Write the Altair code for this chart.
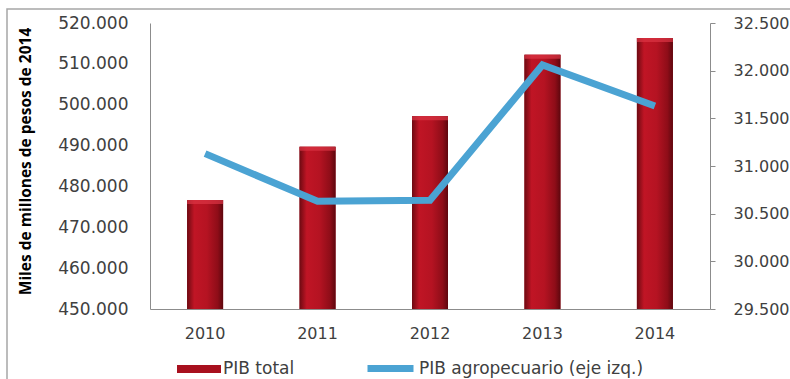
import altair as alt
import pandas as pd

years = ["2010", "2011", "2012", "2013", "2014"]
pib_total = [476.7, 489.7, 497.2, 512.2, 516.3]          # miles de millones
pib_agro = [31.13, 30.63, 30.64, 32.06, 31.63]           # miles de millones

df = pd.DataFrame({"year": years, "total": pib_total, "agro": pib_agro,
                   "s_bar": "PIB total", "s_line": "PIB agropecuario (eje izq.)"})

FONT = "DejaVu Sans"
TXT = "#404040"
AX = "#8c8c8c"
BLUE = "#4ba3d3"

x = alt.X("year:N", title=None,
          scale=alt.Scale(paddingInner=0.68, paddingOuter=0.33),
          axis=alt.Axis(labelAngle=0, ticks=False, domainColor=AX, labelFont=FONT,
                        labelFontSize=16, labelColor=TXT, labelPadding=16))

yscale = alt.Scale(domain=[450, 520], zero=False, nice=False)
yl = alt.Y("total:Q", title="Miles de millones de pesos de 2014", scale=yscale,
           axis=alt.Axis(values=[450, 460, 470, 480, 490, 500, 510, 520],
                         labelExpr="format(datum.value, ',.0f') + '.000'",
                         ticks=False, grid=False, domainColor=AX, labelPadding=22,
                         labelFont=FONT, labelFontSize=17, labelColor=TXT,
                         titleFont="Open Sans", titleFontSize=15.5, titleFontWeight="bold",
                         titleColor="#000000", titleX=-125, titleY=138, titleAngle=-90,
                         titleAlign="center", titleBaseline="middle"))

grad = alt.LinearGradient(gradient="linear", x1=0, x2=1, y1=0, y2=0, stops=[
    alt.GradientStop(color="#6e0a12", offset=0),
    alt.GradientStop(color="#c01525", offset=0.2),
    alt.GradientStop(color="#b51322", offset=0.55),
    alt.GradientStop(color="#8e0d18", offset=0.85),
    alt.GradientStop(color="#5e070e", offset=1),
])

legend_bar = alt.Legend(title=None, orient="none", legendX=27, legendY=324,
                        symbolType="M-1,-0.18H1V0.18H-1Z", symbolSize=1936,
                        symbolStrokeWidth=0, labelFont=FONT, labelFontSize=17,
                        labelColor=TXT, labelOffset=2, labelLimit=400)
bars_legend = alt.Chart(df).mark_bar(size=36, clip=True).encode(
    x=x, y=yl,
    fill=alt.Fill("s_bar:N", scale=alt.Scale(range=["#a8101e"]), legend=legend_bar),
)
bars = alt.Chart(df).mark_bar(size=36, fill=grad, clip=True).encode(x=x, y=yl)
caps = alt.Chart(df).mark_tick(size=36, thickness=4, color="#dc3444", yOffset=2,
                               orient="horizontal").encode(x=x, y=yl)

frame = alt.Chart(alt.Data(values=[{"a": 1}])).mark_rect(
    fill=None, stroke="#a6a6a6", strokeWidth=1.5
).encode(x=alt.value(-143), x2=alt.value(700), y=alt.value(-14), y2=alt.value(400))

yr = alt.Y("agro:Q", title=None,
           scale=alt.Scale(domain=[29.5, 32.5], zero=False, nice=False),
           axis=alt.Axis(orient="right", values=[29.5, 30, 30.5, 31, 31.5, 32, 32.5],
                         labelExpr="format(datum.value, '.3f')",
                         grid=False, domainColor=AX, tickColor=AX, tickSize=5, labelPadding=18,
                         labelFont=FONT, labelFontSize=16, labelColor=TXT))

legend_line = alt.Legend(title=None, orient="none", legendX=214, legendY=319,
                         symbolType="stroke", symbolSize=2116, symbolStrokeWidth=7,
                         labelFont=FONT, labelFontSize=17, labelColor=TXT, labelOffset=2,
                         labelLimit=400)
line = alt.Chart(df).mark_line(strokeWidth=7).encode(
    x=x, y=yr,
    stroke=alt.Stroke("s_line:N", scale=alt.Scale(range=[BLUE]), legend=legend_line),
)

left = alt.layer(frame, bars_legend, bars, caps)
chart = alt.layer(left, line).resolve_scale(
    y="independent", fill="independent", stroke="independent"
).properties(
    width=560, height=286,
    autosize=alt.AutoSizeParams(type="none"),
    padding={"left": 150, "top": 23, "right": 80, "bottom": 70},
).configure_view(stroke=None)

chart.save("out.html", embed_options={"renderer": "svg", "actions": False})
